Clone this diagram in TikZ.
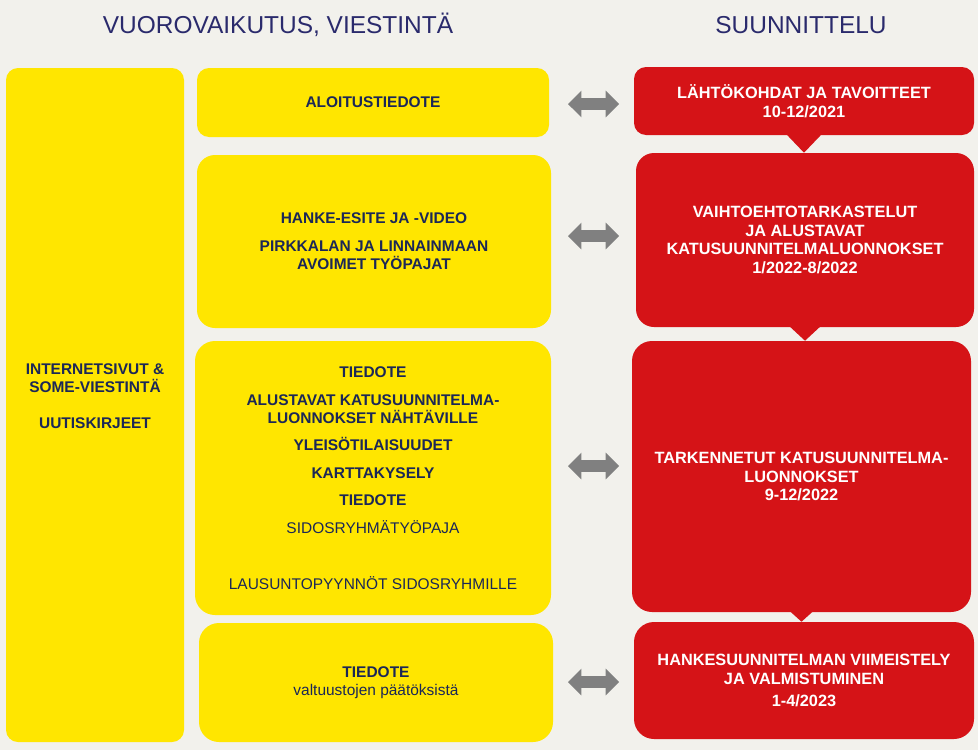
\documentclass[tikz,border=0pt]{standalone}
\usepackage{fontspec}
\setmainfont{Liberation Sans}
\usetikzlibrary{positioning, shapes.arrows, fit, calc}

\definecolor{bgcol}{HTML}{F2F1EC}
\definecolor{yellowc}{HTML}{FFE600}
\definecolor{redc}{HTML}{D51317}
\definecolor{navyc}{HTML}{1B2757}
\definecolor{titlec}{HTML}{2A2A6C}
\definecolor{greyc}{HTML}{808080}

\newcommand{\boxfont}{\fontsize{11}{13.1}\selectfont\bfseries}
\newcommand{\phasefont}{\fontsize{11.6}{13.3}\selectfont\bfseries}

\begin{document}
\begin{tikzpicture}[
	x=0.025cm, y=-0.025cm,
	ybox/.style={fill=yellowc, rounded corners=0.3cm, inner sep=0pt},
	rbox/.style={fill=redc, rounded corners=0.3cm, inner sep=0pt},
	ytxt/.style={align=center, text=navyc, font=\boxfont},
	rtxt/.style={align=center, text=white, font=\phasefont},
	heading/.style={font=\fontsize{17.4}{20}\selectfont, text=titlec, anchor=base},
	darrow/.style={double arrow, fill=greyc, inner xsep=0pt, inner ysep=0.1375cm, double arrow head extend=0.1875cm, minimum height=1.275cm},
]
	\useasboundingbox (0,0) rectangle (978,750);
	\fill[bgcol] (0,0) rectangle (978,750);

	% Column headings
	\node[heading] (headL) at (278,33.5) {VUOROVAIKUTUS, VIESTINTÄ};
	\node[heading] (headR) at (801,33.5) {SUUNNITTELU};

	% Left column: channels running all the time
	\node[ybox, fit={(6,68) (184,742)}] (web) {};
	\node[ytxt] (webtxt) at (95,396)
		{INTERNETSIVUT \&\\ SOME-VIESTINTÄ\\[12.4pt] UUTISKIRJEET};

	% Interaction boxes
	\node[ybox, fit={(197,68) (549,137)}] (y1) {};
	\node[ybox, rounded corners=0.45cm, fit={(197,155) (551,328)}] (y2) {};
	\node[ybox, rounded corners=0.5cm, fit={(195,341) (551,615)}] (y3) {};
	\node[ybox, rounded corners=0.5cm, fit={(199,623) (553,742)}] (y4) {};

	\node[ytxt] (y1txt) at (y1) {ALOITUSTIEDOTE};
	\node[ytxt] (y2txt) at (y2)
		{HANKE-ESITE JA -VIDEO\\[6.4pt] PIRKKALAN JA LINNAINMAAN\\ AVOIMET TYÖPAJAT};
	\node[ytxt] (y3txt) at (y3)
		{TIEDOTE\\[6.4pt] ALUSTAVAT KATUSUUNNITELMA-\\ LUONNOKSET NÄHTÄVILLE\\[6.4pt]
		YLEISÖTILAISUUDET\\[6.4pt] KARTTAKYSELY\\[6.4pt] TIEDOTE\\[6.4pt]
		\mdseries SIDOSRYHMÄTYÖPAJA\\[26.6pt] \mdseries LAUSUNTOPYYNNÖT SIDOSRYHMILLE};
	\node[ytxt] (y4txt) at (y4) {TIEDOTE\\ \mdseries valtuustojen päätöksistä};

	% Planning phases
	\node[rbox, fit={(634,67) (974,135)}] (r1) {};
	\node[rbox, rounded corners=0.45cm, fit={(636,153) (974,327)}] (r2) {};
	\node[rbox, rounded corners=0.5cm, fit={(632,341) (971,612)}] (r3) {};
	\node[rbox, rounded corners=0.5cm, fit={(634,622) (974,739)}] (r4) {};

	\node[rtxt] (r1txt) at (r1) {LÄHTÖKOHDAT JA TAVOITTEET\\ 10-12/2021};
	\node[rtxt] (r2txt) at (r2)
		{VAIHTOEHTOTARKASTELUT\\ JA ALUSTAVAT\\ KATUSUUNNITELMALUONNOKSET\\ 1/2022-8/2022};
	\node[rtxt] (r3txt) at (r3) {TARKENNETUT KATUSUUNNITELMA-\\ LUONNOKSET\\ 9-12/2022};
	\node[rtxt] (r4txt) at (r4) {HANKESUUNNITELMAN VIIMEISTELY\\ JA VALMISTUMINEN\\[2pt] 1-4/2023};

	% Pointers from one phase to the next
	\foreach \a/\b/\w in {r1/r2/0.45cm, r2/r3/0.4cm, r3/r4/0.3cm} {
		\fill[redc] ([xshift=-\w, yshift=1pt]\a.south) -- ([xshift=\w, yshift=1pt]\a.south) -- (\a.south |- \b.north) -- cycle;
	}

	% Double arrows between the columns
	\foreach \i/\yy in {1/104, 2/236, 3/466, 4/682} {
		\node[darrow] (a\i) at (593.5,\yy) {};
	}
\end{tikzpicture}
\end{document}
